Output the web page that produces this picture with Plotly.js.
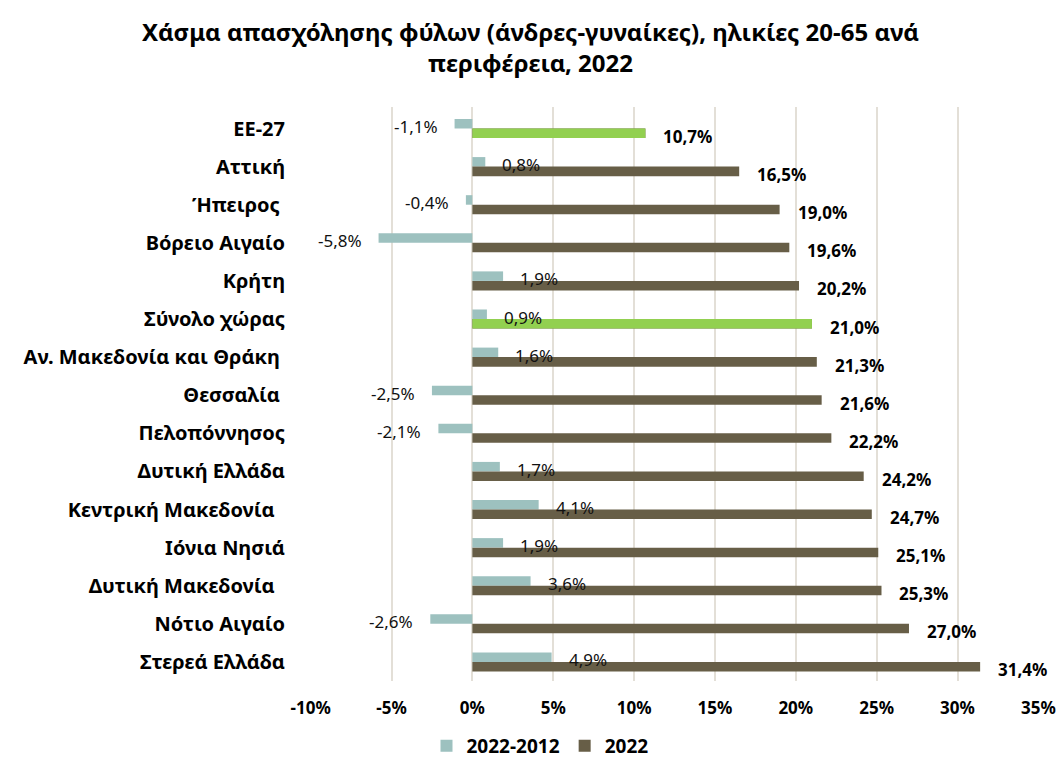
<!DOCTYPE html>
<html>
<head>
<meta charset="utf-8">
<script src="https://cdn.plot.ly/plotly-3.0.1.min.js"></script>
<style>html,body{margin:0;padding:0;background:#fff;}#chart{width:1061px;height:764px;}</style>
</head>
<body>
<div id="chart"></div>
<script>
var categories = ["ΕΕ-27", "Αττική", "Ήπειρος\u00a0", "Βόρειο Αιγαίο", "Κρήτη", "Σύνολο χώρας", "Αν. Μακεδονία και Θράκη\u00a0", "Θεσσαλία\u00a0", "Πελοπόννησος", "Δυτική Ελλάδα", "Κεντρική Μακεδονία\u00a0\u00a0", "Ιόνια Νησιά", "Δυτική Μακεδονία\u00a0\u00a0", "Νότιο Αιγαίο", "Στερεά Ελλάδα"];
var change2012_2022 = [-1.1, 0.8, -0.4, -5.8, 1.9, 0.9, 1.6, -2.5, -2.1, 1.7, 4.1, 1.9, 3.6, -2.6, 4.9];
var gap2022 = [10.7, 16.5, 19.0, 19.6, 20.2, 21.0, 21.3, 21.6, 22.2, 24.2, 24.7, 25.1, 25.3, 27.0, 31.4];
var highlighted = ["ΕΕ-27", "Σύνολο χώρας"];
var seriesNames = ["2022-2012", "2022"];
var tickValues = [-10, -5, 0, 5, 10, 15, 20, 25, 30, 35];
var tickLabels = ["-10%", "-5%", "0%", "5%", "10%", "15%", "20%", "25%", "30%", "35%"];
var titleText = "Χάσμα απασχόλησης φύλων (άνδρες-γυναίκες), ηλικίες 20-65 ανά<br>περιφέρεια, 2022";

var TEAL = "#9dc1bf", BROWN = "#675e47", GREEN = "#92d050";
var FONT = "Noto Sans, sans-serif";
function fmt(v){ return v.toFixed(1).replace(".", ",") + "%"; }

var hiCats = [], hiVals = [];
categories.forEach(function(c, i){ if (highlighted.indexOf(c) >= 0) { hiCats.push(c); hiVals.push(gap2022[i]); } });

var traces = [
  {type:"bar", orientation:"h", name:"<b>"+seriesNames[0]+"</b>", y:categories, x:change2012_2022,
   marker:{color:TEAL}, offsetgroup:"a"},
  {type:"bar", orientation:"h", name:"<b>"+seriesNames[1]+"</b>", y:categories, x:gap2022,
   marker:{color:BROWN}, offsetgroup:"b"},
  {type:"bar", orientation:"h", name:seriesNames[1], y:hiCats, x:hiVals,
   marker:{color:GREEN}, offsetgroup:"b", showlegend:false}
];

var annotations = [];
categories.forEach(function(c, i){
  var v = change2012_2022[i];
  annotations.push({x:v, y:c, xref:"x", yref:"y", text:fmt(v), showarrow:false,
    xanchor: v >= 0 ? "left" : "right", xshift: v >= 0 ? 15 : -15, yshift:2,
    font:{family:FONT, size:17, color:"#111"}});
  var g = gap2022[i];
  annotations.push({x:g, y:c, xref:"x", yref:"y", text:"<b>"+fmt(g)+"</b>", showarrow:false,
    xanchor:"left", xshift:16, yshift:-8,
    font:{family:FONT, size:17, color:"#000"}});
});

var layout = {
  width:1061, height:764,
  margin:{l:310, r:22, t:107, b:83},
  paper_bgcolor:"#fff", plot_bgcolor:"#fff",
  font:{family:FONT, color:"#000"},
  title:{text:"<b>"+titleText+"</b>", x:0.5, xref:"container", xanchor:"center",
    y:1-41/764, yref:"container", yanchor:"middle",
    font:{family:FONT, size:24, color:"#000"}},
  barmode:"group", bargap:0.5, bargroupgap:0,
  xaxis:{range:[-10.04, 35.04], tickvals:tickValues, ticktext:tickLabels.map(function(t){return "<b>"+t+"</b>";}),
    showgrid:true, gridcolor:"#e3dfd7", gridwidth:2, zeroline:false, showline:false,
    ticks:"outside", ticklen:12, tickcolor:"rgba(0,0,0,0)",
    tickfont:{family:FONT, size:17, color:"#000"}, fixedrange:true},
  yaxis:{type:"category", autorange:"reversed", showgrid:false, zeroline:false, showline:false,
    ticks:"outside", ticklen:20, tickcolor:"rgba(0,0,0,0)",
    tickfont:{family:FONT, size:20, color:"#000"}, fixedrange:true,
    tickvals:categories, ticktext:categories.map(function(c){return "<b>"+c+"</b>";})},
  showlegend:true,
  legend:{orientation:"h", xref:"container", x:540/1061, xanchor:"center",
    yref:"container", y:1-746/764, yanchor:"middle",
    font:{family:FONT, size:19, color:"#000"}, itemwidth:30, traceorder:"normal"},
  annotations:annotations
};

Plotly.newPlot("chart", traces, layout, {displayModeBar:false, staticPlot:true});
</script>
</body>
</html>
